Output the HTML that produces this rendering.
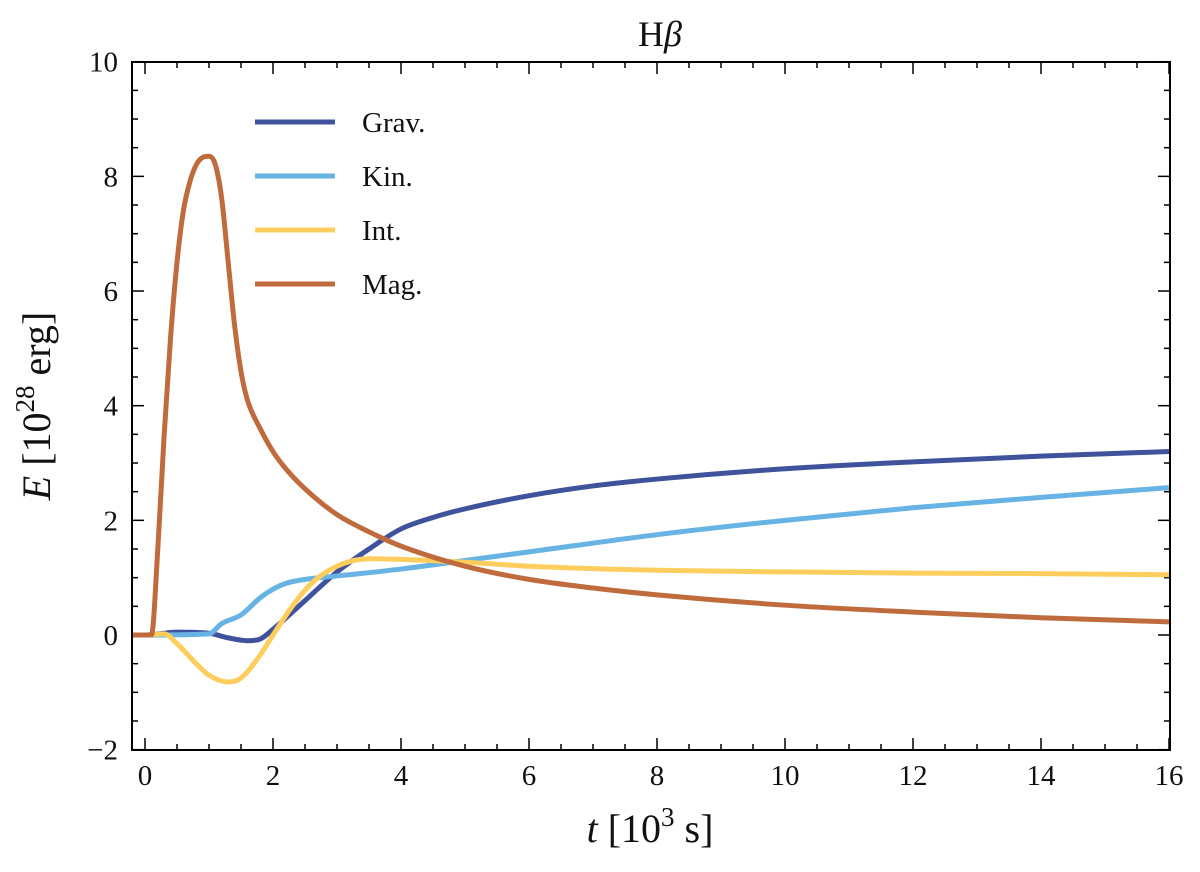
<!DOCTYPE html>
<html><head><meta charset="utf-8"><style>
body{margin:0;background:#fff}
svg text{font-family:"Liberation Serif","DejaVu Serif",serif;fill:#111}
</style></head><body>
<svg id="chart" width="1200" height="867" viewBox="0 0 1200 867" xmlns="http://www.w3.org/2000/svg">
<text x="660" y="46" font-size="36" text-anchor="middle">H<tspan font-style="italic">β</tspan></text>
<g id="ticks"></g>
<g id="series"></g>
<rect x="132" y="62" width="1038" height="688" fill="none" stroke="#000" stroke-width="2"/>
<text x="650" y="842" font-size="40" text-anchor="middle"><tspan font-style="italic">t</tspan> [10<tspan font-size="27" dy="-16">3</tspan><tspan dy="16"> s]</tspan></text>
<text transform="translate(50,406) rotate(-90)" font-size="40" text-anchor="middle"><tspan font-style="italic">E</tspan> [10<tspan font-size="27" dy="-16">28</tspan><tspan dy="16"> erg]</tspan></text>
<g id="legend"></g>
</svg>
<script>
const tGrav=[0,0.5,1,1.3,1.6,1.8,2,2.5,3,3.5,4,4.5,5,6,7,8,10,12,14,16];
const eGrav=[0,0.05,0.03,-0.05,-0.1,-0.07,0.1,0.6,1.1,1.5,1.85,2.05,2.2,2.43,2.6,2.72,2.9,3.02,3.12,3.2];
const tKin=[0,1.0,1.2,1.5,1.8,2,2.2,2.5,3,4,5,6,8,10,12,14,16];
const eKin=[0,0.02,0.2,0.35,0.65,0.8,0.9,0.97,1.03,1.15,1.3,1.45,1.75,2.0,2.22,2.4,2.57];
const tInt=[0,0.3,0.5,0.8,1.0,1.3,1.5,1.8,2,2.3,2.6,3,3.5,4,5,6,8,10,12,14,16];
const eInt=[0,0.02,-0.15,-0.5,-0.7,-0.82,-0.75,-0.35,0,0.5,0.9,1.2,1.33,1.32,1.27,1.2,1.13,1.1,1.08,1.07,1.05];
const tMag=[-0.2,0.1,0.2,0.3,0.4,0.5,0.6,0.7,0.8,0.9,1.0,1.1,1.2,1.3,1.4,1.5,1.6,1.8,2.0,2.2,2.5,3,3.5,4,5,6,7,8,10,12,14,16];
const eMag=[0,0,1.5,3.5,5.2,6.5,7.4,7.9,8.2,8.33,8.35,8.2,7.6,6.5,5.4,4.6,4.1,3.6,3.2,2.9,2.55,2.1,1.8,1.55,1.2,0.97,0.82,0.7,0.52,0.4,0.3,0.23];
const xTicks=[0,2,4,6,8,10,12,14,16];
const yTicks=[-2,0,2,4,6,8,10];
const legendLabels=["Grav.","Kin.","Int.","Mag."];
const colors=["#3f529c","#67b3e3","#fdcd5e","#c06b3d"];
const NS="http://www.w3.org/2000/svg";
const X=t=>145+(t)*64, Y=e=>635-e*57.33;
function mk(tag,attrs,parent){const el=document.createElementNS(NS,tag);for(const k in attrs)el.setAttribute(k,attrs[k]);parent.appendChild(el);return el;}
const tg=document.getElementById('ticks');
for(let v=0;v<=16.01;v+=0.5){const maj=Math.abs(v%2)<1e-6;const len=maj?12:6;const x=X(v);
 const a=mk('line',{x1:x,x2:x,y1:750,y2:750-len,stroke:'#000','stroke-width':1.5},tg);
 
 const b=mk('line',{x1:x,x2:x,y1:62,y2:62+len,stroke:'#000','stroke-width':1.5},tg);
 }
for(let v=-2;v<=10.01;v+=0.5){const maj=Math.abs(v%2)<1e-6;const len=maj?12:6;const y=Y(v);
 const a=mk('line',{x1:132,x2:132+len,y1:y,y2:y,stroke:'#000','stroke-width':1.5},tg);
 
 const b=mk('line',{x1:1170,x2:1170-len,y1:y,y2:y,stroke:'#000','stroke-width':1.5},tg);
 }
xTicks.forEach(v=>{const t=mk('text',{x:X(v),y:785,'font-size':29,'text-anchor':'middle'},tg);t.textContent=v;
 });
yTicks.forEach(v=>{const t=mk('text',{x:118,y:Y(v)+10,'font-size':29,'text-anchor':'end'},tg);t.textContent=v<0?'−'+(-v):v;
 });
const sg=document.getElementById('series');
const sets=[[tGrav,eGrav],[tKin,eKin],[tInt,eInt],[tMag,eMag]];
const names=['grav-line','kin-line','int-line','mag-line'];
function pathFor(ts,es){
 const n=ts.length,x=ts.map(X),y=es.map(Y),d=[],m=new Array(n);
 for(let i=0;i<n-1;i++)d.push((y[i+1]-y[i])/(x[i+1]-x[i]));
 m[0]=d[0];m[n-1]=d[n-2];
 for(let i=1;i<n-1;i++){m[i]=(d[i-1]*d[i]<=0)?0:(d[i-1]+d[i])/2;}
 for(let i=0;i<n-1;i++){if(d[i]===0){m[i]=0;m[i+1]=0;continue;}const a=m[i]/d[i],b=m[i+1]/d[i],s=a*a+b*b;if(s>9){const k=3/Math.sqrt(s);m[i]=k*a*d[i];m[i+1]=k*b*d[i];}}
 let p='M'+x[0]+','+y[0];
 for(let i=0;i<n-1;i++){const h=(x[i+1]-x[i])/3;p+=` C${x[i]+h},${y[i]+m[i]*h} ${x[i+1]-h},${y[i+1]-m[i+1]*h} ${x[i+1]},${y[i+1]}`;}
 return p;}
sets.forEach((s,i)=>{let ts=s[0],es=s[1];if(ts[0]>-0.2){ts=[-0.2].concat(ts);es=[0].concat(es);}
 const el=mk('path',{d:pathFor(ts,es),fill:'none',stroke:colors[i],'stroke-width':5,'stroke-linejoin':'round'},sg);
 });
const lg=document.getElementById('legend');
legendLabels.forEach((l,i)=>{const y=122+i*54;
 const ln=mk('line',{x1:255,x2:335,y1:y,y2:y,stroke:colors[i],'stroke-width':5},lg);
 
 const t=mk('text',{x:362,y:y+10,'font-size':29},lg);t.textContent=l;
 });
</script>
</body></html>
